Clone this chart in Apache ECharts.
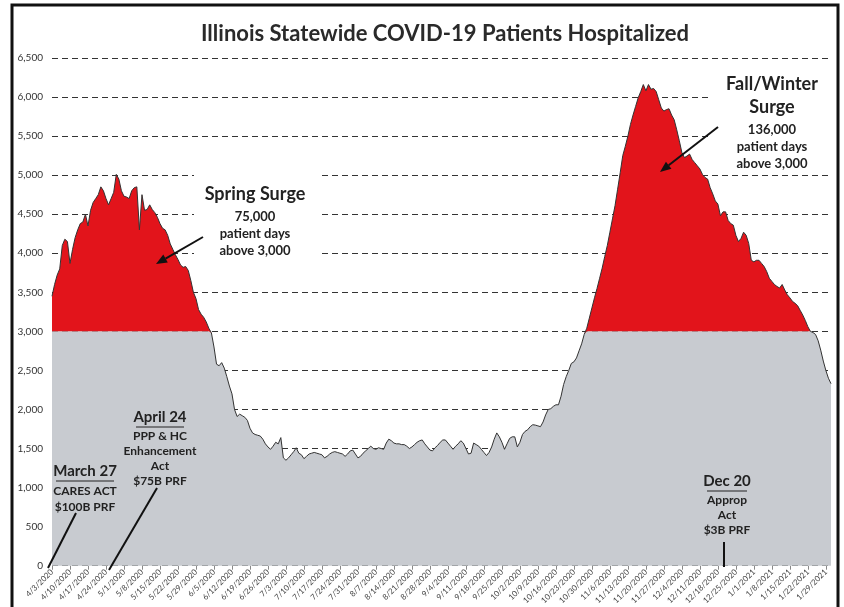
<!DOCTYPE html>
<html>
<head>
<meta charset="utf-8">
<title>Illinois Statewide COVID-19 Patients Hospitalized</title>
<script src="https://cdn.jsdelivr.net/npm/echarts@6/dist/echarts.min.js"></script>
<style>
  html, body { margin: 0; padding: 0; background: #fff; }
  #chart { width: 844px; height: 607px; }
</style>
</head>
<body>
<div id="chart"></div>
<script>
// daily patients hospitalized, starting 4/3/2020
var hospitalized = [
  3450, 3600, 3720, 3800, 4100, 4180, 4150, 3870, 4050, 4200,
  4300, 4380, 4400, 4500, 4350, 4550, 4650, 4700, 4750, 4850,
  4800, 4700, 4620, 4700, 4780, 5010, 4950, 4800, 4730, 4720,
  4700, 4800, 4840, 4850, 4300, 4750, 4550, 4560, 4620, 4560,
  4520, 4460, 4380, 4320, 4300, 4230, 4120, 4050, 3980, 3920,
  3850, 3820, 3830, 3780, 3650, 3500, 3420, 3280, 3220, 3180,
  3120, 3040, 2980, 2800, 2580, 2560, 2600, 2530, 2420, 2300,
  2200, 2000, 1910, 1940, 1920, 1900, 1860, 1760, 1700, 1680,
  1670, 1660, 1620, 1560, 1520, 1490, 1530, 1580, 1560, 1640,
  1380, 1350, 1380, 1420, 1460, 1510, 1440, 1420, 1370, 1400,
  1430, 1440, 1450, 1440, 1430, 1420, 1380, 1400, 1430, 1450,
  1460, 1450, 1440, 1430, 1400, 1430, 1470, 1480, 1430, 1380,
  1400, 1440, 1470, 1500, 1530, 1500, 1490, 1510, 1500, 1490,
  1570, 1620, 1600, 1570, 1560, 1560, 1550, 1550, 1530, 1500,
  1520, 1550, 1580, 1600, 1610, 1560, 1520, 1480, 1470, 1510,
  1540, 1580, 1610, 1610, 1570, 1530, 1490, 1530, 1560, 1600,
  1570, 1500, 1430, 1440, 1570, 1550, 1530, 1490, 1450, 1410,
  1450, 1520, 1620, 1700, 1650, 1580, 1490, 1560, 1630, 1650,
  1650, 1520, 1580, 1680, 1720, 1740, 1780, 1805, 1800, 1790,
  1780, 1840, 1930, 2000, 2010, 2040, 2060, 2060, 2170, 2320,
  2420, 2500, 2590, 2610, 2660, 2750, 2840, 2960, 3040, 3170,
  3300, 3430, 3550, 3680, 3810, 3960, 4100, 4270, 4440, 4610,
  4820, 5030, 5250, 5370, 5500, 5650, 5770, 5880, 5990, 6070,
  6160, 6080, 6160, 6100, 6110, 6070, 5965, 5860, 5820, 5840,
  5850, 5770, 5710, 5580, 5440, 5290, 5225, 5245, 5270, 5200,
  5160, 5120, 5080, 5010, 4970, 4950, 4840, 4760, 4670, 4630,
  4480, 4530, 4530, 4420, 4380, 4360, 4230, 4150, 4190, 4270,
  4230, 4125, 3910, 3890, 3910, 3910, 3870, 3830, 3765, 3680,
  3640, 3600, 3575, 3555, 3600, 3530, 3470, 3430, 3385, 3360,
  3330, 3270, 3210, 3140, 3060, 3000, 2985, 2960, 2880, 2760,
  2620, 2500, 2400, 2330
];
var threshold = 3000;
var yTicks = [0, 500, 1000, 1500, 2000, 2500, 3000, 3500, 4000, 4500, 5000, 5500, 6000, 6500];

// one category per day from 4/3/2020
var dates = hospitalized.map(function (v, i) {
  var d = new Date(2020, 3, 3 + i);
  return (d.getMonth() + 1) + '/' + d.getDate() + '/' + d.getFullYear();
});

var belowLine = hospitalized.map(function (v) { return Math.min(v, threshold); });
var aboveLine = hospitalized.map(function (v) { return Math.max(v - threshold, 0); });

var textColor = '#222';
var fontFam = 'Lato, "Open Sans", sans-serif';

function label(x, y, text, size, lh) {
  return {
    type: 'text', x: x, y: y, z: 100,
    style: {
      text: text, fill: textColor,
      font: 'bold ' + size + 'px ' + fontFam,
      lineHeight: lh || size + 2,
      align: 'center', verticalAlign: 'top',
      textAlign: 'center', textVerticalAlign: 'top'
    }
  };
}
function underline(x1, x2, y) {
  return { type: 'line', z: 100, shape: { x1: x1, y1: y, x2: x2, y2: y }, style: { stroke: textColor, lineWidth: 1.2 } };
}
function stroke(x1, y1, x2, y2) {
  return { type: 'line', z: 100, shape: { x1: x1, y1: y1, x2: x2, y2: y2 }, style: { stroke: '#111', lineWidth: 2 } };
}
// white box behind a text block, under the series but over the gridlines
function blank(x, y, w, h) {
  return { type: 'rect', z: 1, shape: { x: x, y: y, width: w, height: h }, style: { fill: '#fff' } };
}
function arrow(x1, y1, x2, y2) {
  var a = Math.atan2(y2 - y1, x2 - x1), L = 11, W = 4.5;
  var bx = x2 - L * Math.cos(a), by = y2 - L * Math.sin(a);
  return [
    stroke(x1, y1, bx, by),
    { type: 'polygon', z: 100, shape: { points: [
      [x2, y2],
      [bx + W * Math.sin(a), by - W * Math.cos(a)],
      [bx - W * Math.sin(a), by + W * Math.cos(a)]
    ] }, style: { fill: '#111' } }
  ];
}

var chart = echarts.init(document.getElementById('chart'));
var option = {
  backgroundColor: '#fff',
  animation: false,
  title: {
    text: 'Illinois Statewide COVID-19 Patients Hospitalized',
    left: 196, top: 18,
    textStyle: { fontFamily: fontFam, fontWeight: 'bold', fontSize: 22, color: '#2a2a2a' }
  },
  grid: { left: 52, right: 13, top: 58, bottom: 37 },
  xAxis: {
    type: 'category',
    data: dates,
    boundaryGap: false,
    axisLine: { show: false },
    axisTick: { show: true, interval: 6, length: 4, lineStyle: { color: '#888' } },
    axisLabel: { interval: 6, rotate: 45, fontSize: 8, color: '#444', fontFamily: fontFam, margin: 5 },
    splitLine: { show: false }
  },
  yAxis: {
    type: 'value',
    min: yTicks[0], max: yTicks[yTicks.length - 1], interval: 500,
    axisLine: { show: false },
    axisTick: { show: false },
    axisLabel: {
      fontSize: 10, color: '#333', fontFamily: fontFam, margin: 9,
      formatter: function (v) { return v.toLocaleString('en-US'); }
    },
    splitLine: { show: true, lineStyle: { color: '#333', type: [6, 4], width: 1 } }
  },
  series: [
    {
      name: 'below', type: 'line', stack: 'fill', data: belowLine,
      showSymbol: false, silent: true,
      lineStyle: { opacity: 0 },
      areaStyle: { color: '#c8cbd0', opacity: 1 }
    },
    {
      name: 'above', type: 'line', stack: 'fill', data: aboveLine,
      showSymbol: false, silent: true,
      lineStyle: { opacity: 0 },
      areaStyle: { color: '#e2141b', opacity: 1 }
    },
    {
      name: 'hospitalized', type: 'line', data: hospitalized,
      showSymbol: false, silent: true, z: 5,
      lineStyle: { color: '#333', width: 1 }
    }
  ],
  graphic: [].concat(
    [{ type: 'rect', z: 100, shape: { x: 12, y: 5, width: 826, height: 640 }, style: { fill: null, stroke: '#111', lineWidth: 3 } }],
    [blank(194, 168, 124, 96), blank(709, 66, 127, 108)],
    // spring surge
    [label(255, 184, 'Spring Surge', 18), label(255, 208, '75,000\npatient days\nabove 3,000', 13, 17)],
    arrow(203, 237, 156, 264),
    // fall/winter surge
    [label(772, 73, 'Fall/Winter\nSurge', 18, 23), label(772, 121, '136,000\npatient days\nabove 3,000', 13, 17)],
    arrow(718, 127, 660, 172),
    // relief acts
    [label(85, 463, 'March 27', 15), underline(56, 114, 481), label(85, 483, 'CARES ACT\n$100B PRF', 12, 16)],
    [stroke(76, 513, 48, 568)],
    [label(160, 409, 'April 24', 15), underline(136, 184, 427), label(160, 429, 'PPP & HC\nEnhancement\nAct\n$75B PRF', 12, 15)],
    [stroke(157, 488, 109, 570)],
    [label(727, 473, 'Dec 20', 15), underline(707, 747, 491), label(727, 493, 'Approp\nAct\n$3B PRF', 12, 15)],
    [stroke(724, 542, 724, 567)]
  )
};
chart.setOption(option);
</script>
</body>
</html>
